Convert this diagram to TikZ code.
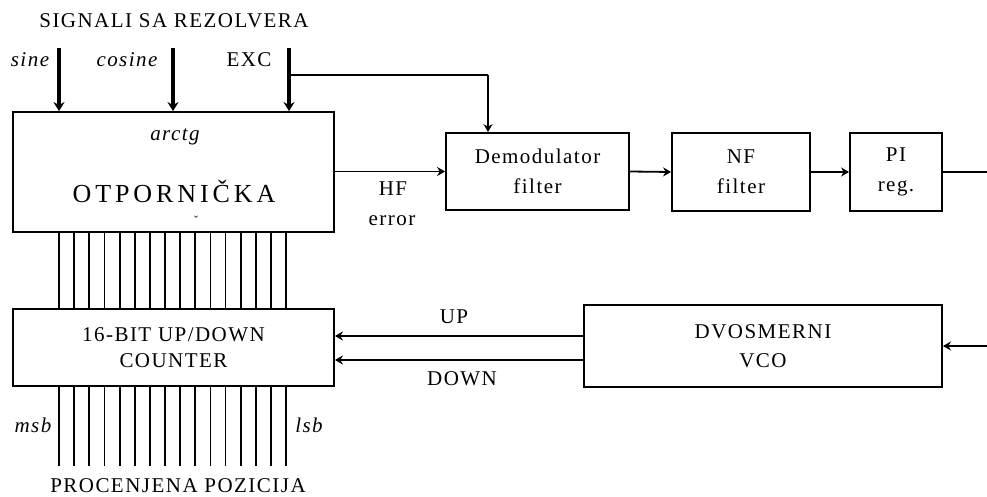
\documentclass[tikz,border=0pt]{standalone}
\usepackage{fontspec}
\setmainfont{Liberation Serif}[LetterSpace=7]
\usetikzlibrary{arrows.meta,calc}
\begin{document}
\begin{tikzpicture}[x=1pt,y=-1pt,
  box/.style={draw,line width=1.8pt,inner sep=0pt,align=center,font=\fontsize{21}{30}\selectfont},
  lbl/.style={inner sep=0pt,anchor=base,font=\fontsize{21}{24}\selectfont},
  ilbl/.style={lbl,font=\fontsize{21}{24}\selectfont\itshape},
  conn/.style={line width=1.8pt},
  arr/.style={conn,-{Stealth[length=8pt,width=9pt]}},
  thickarr/.style={line width=3.6pt,-{Stealth[length=9pt,width=11pt]}},
  bus/.style={line width=1.8pt}]
\useasboundingbox[fill=white] (0,0) rectangle (987,497);

% boxes
\node[box,minimum width=321pt,minimum height=120pt] (main) at (173.5,172) {};
\node[box,minimum width=183pt,minimum height=77pt] (demod) at (537.5,171.5) {Demodulator\\filter};
\node[box,minimum width=138pt,minimum height=78pt] (nf) at (741,172) {NF\\filter};
\node[box,minimum width=92pt,minimum height=78pt] (pi) at (896,172) {PI\\reg.};
\node[box,minimum width=321pt,minimum height=77pt,font=\fontsize{21}{26}\selectfont] (cnt) at (173.5,347.5) {16-BIT UP/DOWN\\COUNTER};
\node[box,minimum width=358pt,minimum height=82pt,font=\fontsize{21}{29}\selectfont] (vco) at (763,346) {DVOSMERNI\\VCO};

% texts
\node[lbl] (title) at (174,28) {SIGNALI SA REZOLVERA};
\node[ilbl] (tsine) at (30,67) {sine};
\node[ilbl] (tcos) at (127,67) {cosine};
\node[lbl] (texc) at (249,67) {EXC};
\node[ilbl] (tarc) at (175,141) {arctg};
\node[lbl,font=\fontsize{26}{30}\selectfont\addfontfeature{LetterSpace=15}] (totp) at (174,203) {OTPORNIČKA};
\node[inner sep=0pt,font=\fontsize{12}{12}\selectfont] (tcar) at (196,220) {ˇ};
\node[lbl] (thf) at (393,195) {HF};
\node[lbl] (terr) at (392,225) {error};
\node[lbl] (tup) at (454,323) {UP};
\node[lbl] (tdown) at (462,385) {DOWN};
\node[ilbl] (tmsb) at (33,432) {msb};
\node[ilbl] (tlsb) at (309,432) {lsb};
\node[lbl] (tpos) at (178,492) {PROCENJENA POZICIJA};

% input arrows
\coordinate (in1) at (59,48);
\coordinate (in2) at (173,48);
\coordinate (in3) at (289,48);
\draw[thickarr] (in1) -- (in1 |- main.north);
\draw[thickarr] (in2) -- (in2 |- main.north);
\draw[thickarr] (in3) -- (in3 |- main.north);

% EXC branch
\coordinate (excj) at (289,75);
\coordinate (exct) at (488,75);
\draw[conn] (excj) -- (exct);
\draw[arr] (exct) -- (exct |- demod.north);

% forward chain
\draw[arr] (main.east |- demod.west) -- (demod.west);
\draw[arr] (demod.east) -- (nf.west);
\draw[arr] (nf.east) -- (pi.west);
\coordinate (outr) at (987,172);
\draw[conn] (pi.east) -- (outr);
\coordinate (inr) at (987,346);
\draw[arr] (inr) -- (vco.east);

% UP / DOWN
\coordinate (upv) at (584,336);
\coordinate (dnv) at (584,360);
\draw[arr] (upv) -- (upv -| cnt.east);
\draw[arr] (dnv) -- (dnv -| cnt.east);

% bus lines
\foreach \i in {0,...,15}{
  \pgfmathsetmacro\bx{47+\i*15.133}
  \draw[bus] ($(main.south west)+(\bx,0)$) -- ($(cnt.north west)+(\bx,0)$);
  \draw[bus] ($(cnt.south west)+(\bx,0)$) -- ($(cnt.south west)+(\bx,79)$);
}
\end{tikzpicture}
\end{document}
